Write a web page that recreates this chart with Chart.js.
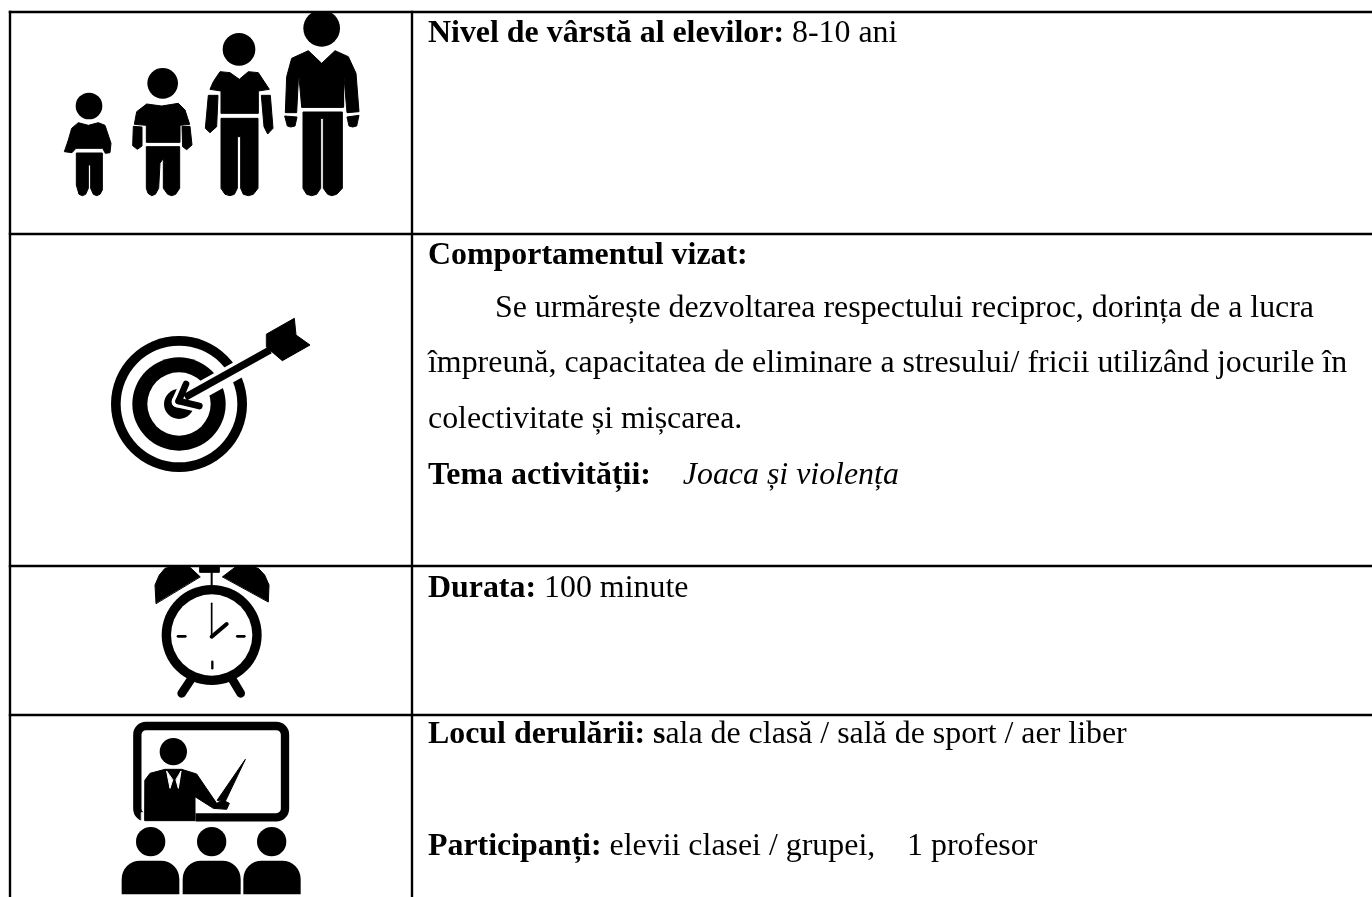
<!DOCTYPE html>
<html lang="ro">
<head>
<meta charset="utf-8">
<title>Fișa activității</title>
<script src="https://cdn.jsdelivr.net/npm/chart.js@4/dist/chart.umd.min.js"></script>
<style>
  html, body { margin: 0; padding: 0; background: #fff; overflow: hidden; }
  canvas { display: block; }
</style>
</head>
<body>
<canvas id="sheet" width="1372" height="897"></canvas>
<script>
// Table rules, in picture pixels
const rowEdges = [12, 234, 566, 715];
const colEdges = [10, 412];

// Text lines: [bold, normal, italic] runs
const lineNivel = ["Nivel de vârstă al elevilor:", " 8-10 ani", ""];
const lineComportament = ["Comportamentul vizat:", "", ""];
const lineScop1 = ["", "Se urmărește dezvoltarea respectului reciproc, dorința de a lucra", ""];
const lineScop2 = ["", "împreună, capacitatea de eliminare a stresului/ fricii utilizând jocurile în", ""];
const lineScop3 = ["", "colectivitate și mișcarea.", ""];
const lineTema = ["Tema activității:", "    ", "Joaca și violența"];
const lineDurata = ["Durata:", " 100 minute", ""];
const lineLocul = ["Locul derulării: s", "ala de clasă / sală de sport / aer liber", ""];
const lineParticipanti = ["Participanți:", " elevii clasei / grupei,    1 profesor", ""];

const textLines = [
  { runs: lineNivel, x: 428, y: 42 },
  { runs: lineComportament, x: 428, y: 264 },
  { runs: lineScop1, x: 495, y: 317 },
  { runs: lineScop2, x: 428, y: 372 },
  { runs: lineScop3, x: 428, y: 428 },
  { runs: lineTema, x: 428, y: 484 },
  { runs: lineDurata, x: 428, y: 597 },
  { runs: lineLocul, x: 428, y: 743 },
  { runs: lineParticipanti, x: 428, y: 855 },
];

const FONT_SIZE = 31.9;
const SERIF = "'Liberation Serif', 'Times New Roman', serif";

// Helper bound to the chart scales, icon shapes are given in crop coordinates
function makePen(chart, ox, oy, s) {
  const { x, y } = chart.scales;
  const ctx = chart.ctx;
  const px = (v) => x.getPixelForValue(ox + v * s);
  const py = (v) => y.getPixelForValue(oy + v * s);
  return {
    poly(points, color = "#000") {
      ctx.beginPath();
      points.forEach((p, i) => (i ? ctx.lineTo(px(p[0]), py(p[1])) : ctx.moveTo(px(p[0]), py(p[1]))));
      ctx.closePath();
      ctx.fillStyle = color;
      ctx.fill();
      // slight round stroke so the corners are not razor sharp
      ctx.lineJoin = "round";
      ctx.lineWidth = 3 * s;
      ctx.strokeStyle = color;
      ctx.stroke();
    },
    disc(cx, cy, r, color = "#000") {
      ctx.beginPath();
      ctx.arc(px(cx), py(cy), r * s, 0, Math.PI * 2);
      ctx.fillStyle = color;
      ctx.fill();
    },
    line(x1, y1, x2, y2, w, color = "#000", cap = "round") {
      ctx.beginPath();
      ctx.moveTo(px(x1), py(y1));
      ctx.lineTo(px(x2), py(y2));
      ctx.lineWidth = w * s;
      ctx.lineCap = cap;
      ctx.strokeStyle = color;
      ctx.stroke();
    },
    roundRect(x1, y1, x2, y2, r, w) {
      ctx.beginPath();
      ctx.roundRect(px(x1), py(y1), px(x2) - px(x1), py(y2) - py(y1), r * s);
      ctx.lineWidth = w * s;
      ctx.strokeStyle = "#000";
      ctx.stroke();
    },
    blob(x1, y1, x2, y2, r) {
      ctx.beginPath();
      ctx.roundRect(px(x1), py(y1), px(x2) - px(x1), py(y2) - py(y1), [r * s, r * s, 0, 0]);
      ctx.fillStyle = "#000";
      ctx.fill();
    },
    clipBelow(v) {
      ctx.beginPath();
      ctx.rect(0, py(v), chart.width, chart.height);
      ctx.clip();
    },
  };
}

function drawPeople(chart) {
  const p = makePen(chart, 0, 0, 1 / 3);
  chart.ctx.save();
  p.clipBelow(36);
  // smallest child
  p.disc(267, 318, 40);
  p.poly([[235,368],[265,376],[295,368],[315,376],[333,430],[330,458],[316,460],[308,445],[228,445],[216,458],[193,455],[205,420],[215,385]]);
  p.poly([[229,459],[307,459],[307,570],[300,583],[290,587],[280,583],[272,565],[272,495],[265,495],[265,565],[257,583],[247,587],[237,583],[229,555]]);
  // second child
  p.disc(488, 250, 46);
  p.poly([[440,312],[485,318],[535,310],[555,330],[569,373],[540,376],[540,427],[439,427],[439,376],[403,373],[410,335]]);
  p.poly([[400,379],[426,381],[426,438],[412,448],[398,437]]);
  p.poly([[546,379],[570,379],[576,435],[560,449],[548,440]]);
  p.poly([[439,440],[539,440],[539,565],[527,583],[515,587],[503,583],[490,565],[490,475],[480,490],[476,565],[466,583],[455,587],[444,580],[439,565]]);
  // teenager
  p.disc(717, 148, 49);
  p.poly([[660,215],[690,218],[718,238],[745,215],[775,218],[808,268],[775,273],[775,340],[663,340],[663,273],[630,268],[640,245]]);
  p.poly([[625,286],[654,286],[650,380],[630,398],[616,385]]);
  p.poly([[784,286],[811,286],[819,385],[803,402],[792,380]]);
  p.poly([[663,355],[774,355],[774,565],[760,583],[745,587],[730,583],[722,565],[722,410],[712,410],[712,565],[703,583],[690,587],[675,583],[663,565]]);
  // adult
  p.disc(965, 85, 55);
  p.poly([[925,152],[965,190],[1005,152],[1045,170],[1068,220],[1077,335],[1041,338],[1031,220],[1031,321],[905,321],[896,220],[890,338],[856,338],[860,230],[875,175]]);
  p.poly([[905,220],[905,322],[1030,322],[1030,220],[1000,200],[930,200]]);
  p.poly([[854,348],[891,351],[885,378],[872,381],[862,378]]);
  p.poly([[1041,351],[1077,346],[1070,378],[1058,381],[1047,378]]);
  p.poly([[909,336],[1027,336],[1027,565],[1010,583],[995,587],[983,583],[970,565],[970,355],[962,355],[962,565],[950,583],[935,587],[920,583],[909,565]]);
  chart.ctx.restore();
}

function drawTarget(chart) {
  const p = makePen(chart, 60, 270, 1 / 3);
  p.disc(357, 402, 204);
  p.disc(357, 402, 175, "#fff");
  p.disc(357, 402, 140);
  p.disc(357, 402, 95, "#fff");
  p.disc(357, 402, 45);
  // arrow with white halo
  p.line(380, 385, 640, 240, 52, "#fff", "butt");
  p.line(378, 338, 352, 395, 34, "#fff");
  p.line(352, 395, 420, 410, 34, "#fff");
  p.line(375, 382, 630, 240, 22, "#000", "butt");
  p.line(378, 342, 356, 393, 20);
  p.line(356, 393, 418, 408, 20);
  p.poly([[620,192],[703,145],[708,195],[750,225],[667,272],[620,232]]);
}

function drawClock(chart) {
  const p = makePen(chart, 120, 560, 1 / 3);
  chart.ctx.save();
  p.clipBelow(17);
  p.poly([[108,130],[105,75],[118,45],[135,25],[175,15],[210,22],[240,50]]);
  p.poly([[445,125],[447,75],[434,45],[415,25],[380,15],[345,22],[308,50]]);
  p.poly([[240,18],[298,18],[298,37],[240,37]]);
  p.line(275, 30, 275, 90, 6, "#000", "butt");
  p.line(185, 400, 215, 355, 26);
  p.line(362, 400, 335, 355, 26);
  p.disc(275, 225, 150);
  p.disc(275, 225, 122, "#fff");
  p.line(275, 130, 275, 230, 5);
  p.line(275, 230, 320, 192, 12);
  p.line(174, 229, 196, 229, 8);
  p.line(352, 229, 373, 229, 8);
  p.line(277, 305, 277, 325, 7);
  chart.ctx.restore();
}

function drawPresenter(chart) {
  const p = makePen(chart, 100, 700, 1 / 3);
  p.roundRect(112, 78, 555, 352, 26, 25);
  p.poly([[125,338],[285,338],[285,372],[125,372]], "#fff");
  p.disc(220, 155, 41);
  p.poly([[135,240],[150,220],[195,208],[245,208],[290,222],[350,310],[368,300],[388,310],[380,328],[340,325],[285,290],[285,362],[135,362]]);
  // shirt either side of the tie
  p.poly([[200,214],[210,265],[218,240]], "#fff");
  p.poly([[243,214],[235,265],[228,240]], "#fff");
  p.poly([[352,300],[436,178],[376,304]]);
  p.disc(152, 425, 44);
  p.disc(335, 425, 44);
  p.disc(515, 425, 44);
  p.blob(65, 482, 238, 583, 55);
  p.blob(248, 482, 422, 583, 55);
  p.blob(430, 482, 602, 583, 55);
}

// Text and pictograms are drawn through the chart scales
const sheetPlugin = {
  id: "sheet",
  beforeDatasetsDraw(chart) {
    drawPeople(chart);
    drawTarget(chart);
    drawClock(chart);
    drawPresenter(chart);
  },
  afterDatasetsDraw(chart) {
    const ctx = chart.ctx;
    const { x, y } = chart.scales;
    ctx.save();
    ctx.fillStyle = "#000";
    ctx.textBaseline = "alphabetic";
    textLines.forEach((line) => {
      let cursor = x.getPixelForValue(line.x);
      const base = y.getPixelForValue(line.y);
      ["bold ", "", "italic "].forEach((style, i) => {
        if (!line.runs[i]) return;
        ctx.font = style + FONT_SIZE + "px " + SERIF;
        ctx.fillText(line.runs[i], cursor, base);
        cursor += ctx.measureText(line.runs[i]).width;
      });
    });
    ctx.restore();
  },
};

function ruleDataset(points) {
  return {
    data: points,
    showLine: true,
    borderColor: "#000",
    borderWidth: 2.4,
    pointRadius: 0,
    borderCapStyle: "square",
  };
}

document.addEventListener("DOMContentLoaded", function () {
  const maxX = 1372;
  const maxY = 897;

  const datasets = [];
  rowEdges.forEach((edge) => {
    datasets.push(ruleDataset([{ x: colEdges[0], y: edge }, { x: maxX, y: edge }]));
  });
  colEdges.forEach((edge) => {
    datasets.push(ruleDataset([{ x: edge, y: rowEdges[0] }, { x: edge, y: maxY }]));
  });

  new Chart(document.getElementById("sheet"), {
    type: "scatter",
    data: { datasets: datasets },
    options: {
      responsive: false,
      animation: false,
      layout: { padding: 0 },
      plugins: { legend: { display: false }, tooltip: { enabled: false } },
      scales: {
        x: { type: "linear", display: false, min: 0, max: maxX },
        y: { type: "linear", display: false, min: 0, max: maxY, reverse: true },
      },
    },
    plugins: [sheetPlugin],
  });
});
</script>
</body>
</html>
